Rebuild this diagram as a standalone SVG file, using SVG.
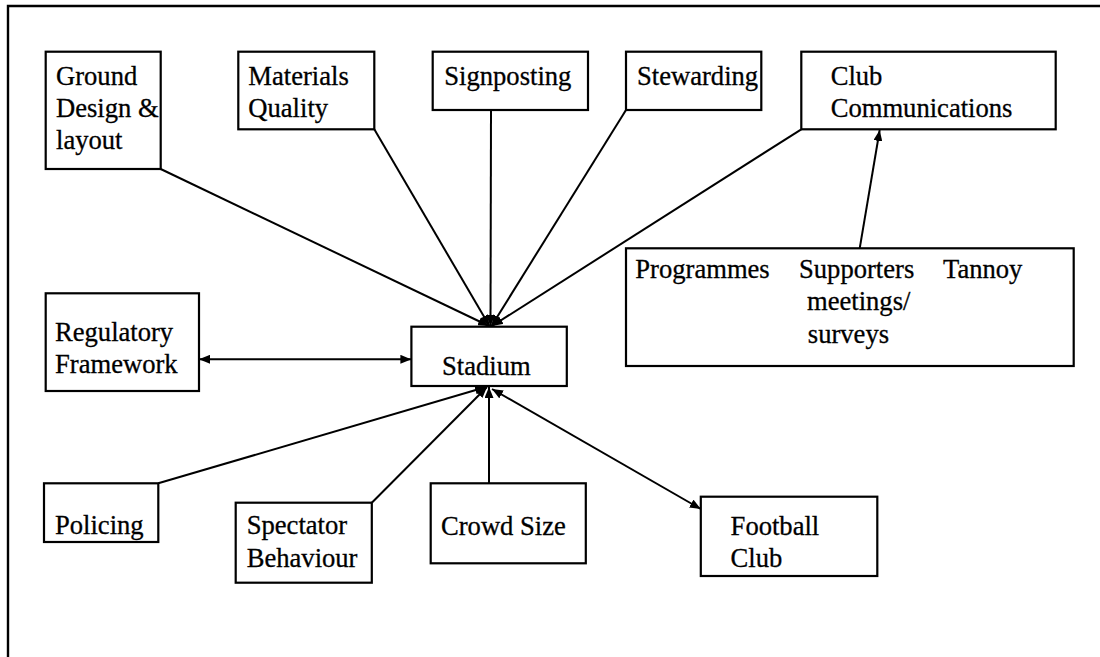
<svg xmlns="http://www.w3.org/2000/svg" width="1100" height="657" viewBox="0 0 1100 657">
  <style>
    .box { fill: #ffffff; stroke: #000000; stroke-width: 2.2; }
    .link { fill: none; stroke: #000000; stroke-width: 2; }
    .frame { fill: none; stroke: #000000; stroke-width: 2.4; }
    text { stroke: #000000; stroke-width: 0.3; }
  </style>
  <defs>
    <marker id="arrow" viewBox="0 0 11 9" refX="11" refY="4.5" markerWidth="11" markerHeight="9" markerUnits="userSpaceOnUse" orient="auto-start-reverse">
      <path d="M0,0 L11,4.5 L0,9 z" fill="#000000"/>
    </marker>
  </defs>

  <rect width="1100" height="657" fill="#ffffff"/>

  <!-- page frame (top and left edges) -->
  <path class="frame" d="M8,657 L8,6 L1100,6"/>

  <!-- connectors -->
  <g id="connectors">
    <line class="link" x1="160.7" y1="169" x2="489" y2="326" marker-end="url(#arrow)"/>
    <line class="link" x1="374.3" y1="129.3" x2="489.5" y2="326" marker-end="url(#arrow)"/>
    <line class="link" x1="491" y1="110" x2="490.5" y2="326" marker-end="url(#arrow)"/>
    <line class="link" x1="626" y1="110" x2="491.5" y2="326" marker-end="url(#arrow)"/>
    <line class="link" x1="801.3" y1="129.3" x2="492" y2="326" marker-end="url(#arrow)"/>
    <line class="link" x1="859.7" y1="248.3" x2="879.7" y2="130" marker-end="url(#arrow)"/>
    <line class="link" x1="199" y1="359.3" x2="411.4" y2="359.3" marker-start="url(#arrow)" marker-end="url(#arrow)"/>
    <line class="link" x1="158.3" y1="483.3" x2="486" y2="387" marker-end="url(#arrow)"/>
    <line class="link" x1="371.8" y1="502.7" x2="487" y2="387" marker-end="url(#arrow)"/>
    <line class="link" x1="489" y1="483.3" x2="489" y2="387" marker-end="url(#arrow)"/>
    <line class="link" x1="492" y1="389" x2="700.8" y2="509" marker-start="url(#arrow)" marker-end="url(#arrow)"/>
  </g>

  <!-- nodes; all labels share one serif face -->
  <g font-family="Liberation Serif, Tinos, Times New Roman, DejaVu Serif, serif" font-size="26.6" fill="#000000">
  <g id="ground-design">
    <rect class="box" x="45.7" y="51.7" width="115" height="117.3"/>
    <text x="56" y="85">Ground</text>
    <text x="56" y="117">Design &amp;</text>
    <text x="56" y="149">layout</text>
  </g>

  <g id="materials-quality">
    <rect class="box" x="238.3" y="51.7" width="136" height="77.6"/>
    <text x="248.3" y="85">Materials</text>
    <text x="248.3" y="117">Quality</text>
  </g>

  <g id="signposting">
    <rect class="box" x="432.7" y="51.7" width="155.3" height="58.3"/>
    <text x="444.3" y="85">Signposting</text>
  </g>

  <g id="stewarding">
    <rect class="box" x="626" y="51.7" width="135.3" height="58.3"/>
    <text x="637" y="85">Stewarding</text>
  </g>

  <g id="club-communications">
    <rect class="box" x="801.3" y="51.7" width="254.4" height="77.6"/>
    <text x="830.7" y="85">Club</text>
    <text x="830.7" y="117">Communications</text>
  </g>

  <g id="communication-channels">
    <rect class="box" x="626" y="248.3" width="447.7" height="117.7"/>
    <text x="635.3" y="278">Programmes</text>
    <text x="799" y="278">Supporters</text>
    <text x="943" y="278">Tannoy</text>
    <text x="807" y="310">meetings/</text>
    <text x="807.8" y="342.7">surveys</text>
  </g>

  <g id="regulatory-framework">
    <rect class="box" x="45.7" y="293.3" width="153.3" height="97.7"/>
    <text x="55" y="341">Regulatory</text>
    <text x="55" y="373.3">Framework</text>
  </g>

  <g id="stadium">
    <rect class="box" x="411.4" y="326.7" width="155.4" height="59.3"/>
    <text x="442" y="375">Stadium</text>
  </g>

  <g id="policing">
    <rect class="box" x="44" y="483.3" width="114.3" height="58.7"/>
    <text x="55" y="534">Policing</text>
  </g>

  <g id="spectator-behaviour">
    <rect class="box" x="235.7" y="502.7" width="136.1" height="80"/>
    <text x="246.7" y="534">Spectator</text>
    <text x="246.7" y="566.7">Behaviour</text>
  </g>

  <g id="crowd-size">
    <rect class="box" x="430.7" y="483.3" width="155.1" height="80"/>
    <text x="441" y="535">Crowd Size</text>
  </g>

  <g id="football-club">
    <rect class="box" x="700.8" y="496.7" width="176.5" height="79.3"/>
    <text x="730.6" y="535">Football</text>
    <text x="730.6" y="566.7">Club</text>
  </g>
  </g>
</svg>
